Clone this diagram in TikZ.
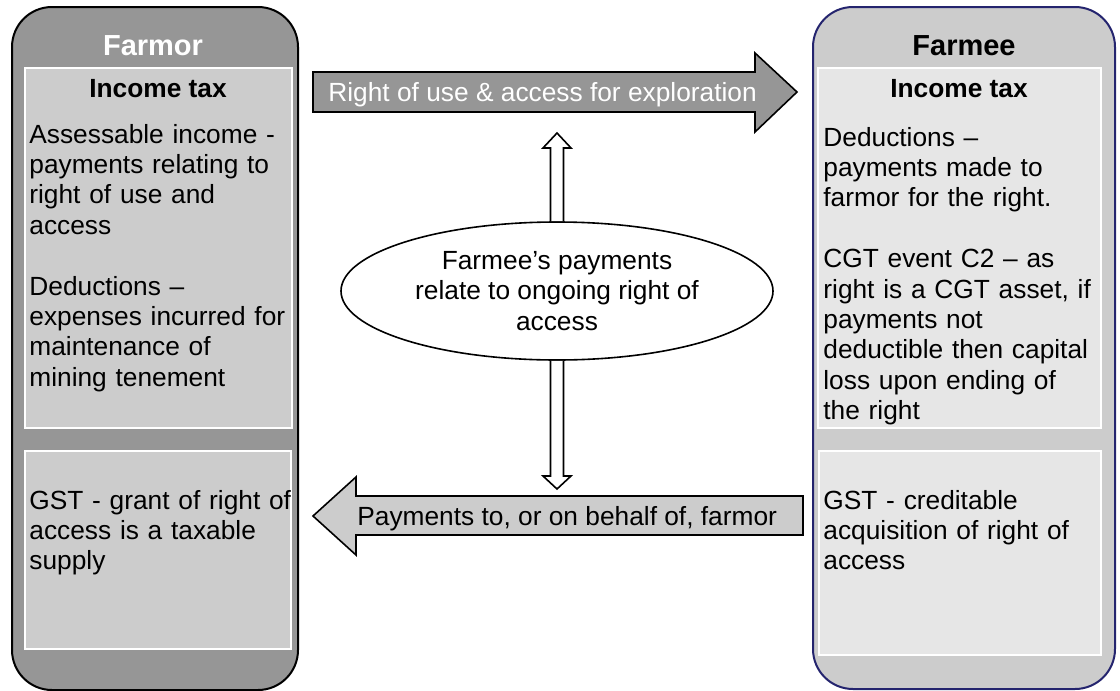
\documentclass[tikz,border=0pt]{standalone}
\usepackage{fontspec}
\setmainfont{Liberation Sans}
\usepackage{tikz}
\usetikzlibrary{shapes.geometric, calc}
\definecolor{darkgrey}{HTML}{969696}
\definecolor{midgrey}{HTML}{CCCCCC}
\definecolor{palegrey}{HTML}{E6E6E6}
\definecolor{farmeeblue}{HTML}{24246E}

\tikzset{
  sidebox/.style={rectangle, rounded corners=20pt, line width=1pt, inner sep=0pt},
  taxbox/.style={rectangle, draw=white, line width=0.8pt, inner sep=0pt},
  bodytext/.style={font=\fontsize{13.15}{15.2}\selectfont, inner sep=0pt, align=left, anchor=base west},
  headtext/.style={font=\fontsize{13.15}{15.2}\selectfont\bfseries, inner sep=0pt, anchor=base},
  titletext/.style={font=\fontsize{14.5}{17}\selectfont\bfseries, inner sep=0pt, anchor=base},
  hollow/.style={draw=black, fill=white, line width=0.8pt, line join=miter}
}

\begin{document}
\begin{tikzpicture}[x=0.5pt, y=-0.5pt]
\useasboundingbox (0,0) rectangle (1120,691);

% farmor side
\node[sidebox, draw=black, fill=darkgrey, minimum width=143pt, minimum height=341.5pt] (farmor) at (155,348.5) {};
\node[taxbox, fill=midgrey, minimum width=133.5pt, minimum height=180pt] (farmortax) at (158.5,248) {};
\node[taxbox, fill=midgrey, minimum width=133pt, minimum height=99pt] (farmorgst) at (158,550) {};
\node[titletext, text=white] (farmortitle) at (153,55) {Farmor};
\node[headtext] (farmorhead) at (158,97) {Income tax};
\node[bodytext, text width=134pt] (farmortext) at (29,143) {Assessable income -\\ payments relating to\\ right of use and\\ access\\[15.2pt]
Deductions –\\ expenses incurred for\\ maintenance of\\ mining tenement};
\node[bodytext, text width=134pt] (farmorgsttext) at (29,509) {GST - grant of right of\\ access is a taxable\\ supply};

% farmee side
\node[sidebox, draw=farmeeblue, fill=midgrey, minimum width=151pt, minimum height=341pt] (farmee) at (964,348) {};
\node[taxbox, fill=palegrey, minimum width=141.5pt, minimum height=180pt] (farmeetax) at (959.5,248) {};
\node[taxbox, fill=palegrey, minimum width=141pt, minimum height=102pt] (farmeegst) at (960,553) {};
\node[titletext] (farmeetitle) at (964,55) {Farmee};
\node[headtext] (farmeehead) at (959,97) {Income tax};
\node[bodytext, text width=140pt] (farmeetext) at (823,146) {Deductions –\\ payments made to\\ farmor for the right.\\[15.2pt]
CGT event C2 – as\\ right is a CGT asset, if\\ payments not\\ deductible then capital\\ loss upon ending of\\ the right};
\node[bodytext, text width=140pt] (farmeegsttext) at (823,509) {GST - creditable\\ acquisition of right of\\ access};

% block arrows between the two sides
\draw[fill=darkgrey, line width=0.8pt, line join=miter] (313,72) -- (755,72) -- (755,53) -- (797,92) -- (755,132) -- (755,112) -- (313,112) -- cycle;
\node[bodytext, text=white] (rightlabel) at (328,101.5) {Right of use \& access for exploration};
\draw[fill=midgrey, line width=0.8pt, line join=miter] (803,496) -- (356,496) -- (356,477) -- (313,516) -- (356,555) -- (356,535) -- (803,535) -- cycle;
\node[bodytext] (paylabel) at (357,525) {Payments to, or on behalf of, farmor};

% payments ellipse
\node[ellipse, draw=black, line width=0.8pt, minimum width=216pt, minimum height=69pt, inner sep=0pt, align=center,
      font=\fontsize{13.15}{15.2}\selectfont] (claim) at (557,291) {Farmee’s payments\\ relate to ongoing right of\\ access};

% hollow arrows up and down
\draw[hollow] ($(claim.north)+(-6.5,0)$) -- (550.5,148) -- (543,148) -- (557,133) -- (571,148) -- (563.5,148) -- ($(claim.north)+(6.5,0)$);
\draw[hollow] ($(claim.south)+(-6.5,0)$) -- (550.5,476) -- (543,476) -- (557,489) -- (571,476) -- (563.5,476) -- ($(claim.south)+(6.5,0)$);
\end{tikzpicture}
\end{document}
